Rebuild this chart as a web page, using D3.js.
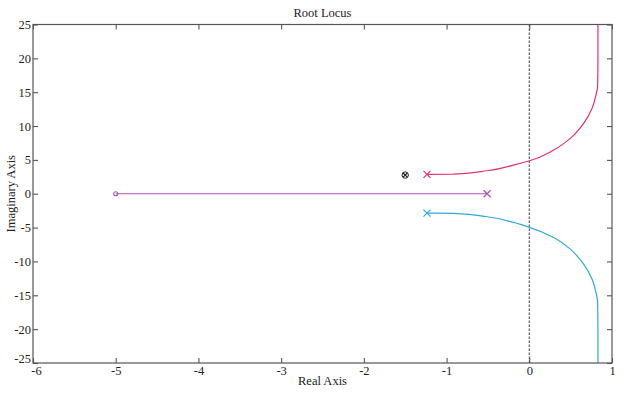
<!DOCTYPE html>
<html><head><meta charset="utf-8">
<script src="https://cdn.jsdelivr.net/npm/d3@7"></script>
<style>body{margin:0;background:#fff}svg{display:block}text{font-family:"Liberation Serif","Times New Roman",serif;fill:#222}</style>
</head><body><svg id="c" width="624" height="393"></svg>
<script>
const xTicks = [-6,-5,-4,-3,-2,-1,0,1];
const yTicks = [-25,-20,-15,-10,-5,0,5,10,15,20,25];
// Branch 1 (upper, pink): real, imag
const upperRe = [-1.237,-0.915,-0.512,-0.19,0.004,0.294,0.496,0.657,0.758,0.81,0.826,0.83,0.83];
const upperIm = [2.87,2.91,3.40,4.24,4.87,6.45,8.18,10.4,12.6,14.8,15.8,20,25];
// Branch 2 (lower, cyan)
const lowerRe = [-1.237,-0.915,-0.512,-0.19,0.004,0.294,0.496,0.657,0.758,0.81,0.826,0.83,0.83];
const lowerIm = [-2.87,-2.91,-3.40,-4.24,-4.96,-6.45,-8.18,-10.4,-12.6,-14.8,-15.9,-20,-25];
// Branch 3 (real axis, purple)
const realRe = [-5,-0.5];
const realIm = [0,0];
// Poles / zeros
const polesRe = [-1.237,-1.237,-0.51];
const polesIm = [2.87,-2.87,0];
const zerosRe = [-5];
const zerosIm = [0];
const cancelRe = [-1.5];
const cancelIm = [2.76];

const svg = d3.select("#c");
const L=33,R=612,T=24.5,B=363;
const x = d3.scaleLinear().domain([-6,1]).range([L,R]);
const y = d3.scaleLinear().domain([-25,25]).range([B,T]);
const axisCol="#555";

// dashed imaginary axis line
svg.append("line").attr("x1",x(0)).attr("x2",x(0)).attr("y1",T).attr("y2",B)
  .attr("stroke","#222").attr("stroke-width",0.9).attr("stroke-dasharray","2.5,1.5");

const line = d3.line().x(d=>x(d[0])).y(d=>y(d[1])).curve(d3.curveMonotoneY);
const lineX = d3.line().x(d=>x(d[0])).y(d=>y(d[1]));
const cols = {up:"#e5336e", lo:"#33a8dc", re:"#a558b4"};
svg.append("path").attr("d",line(d3.zip(upperRe,upperIm))).attr("fill","none").attr("stroke",cols.up).attr("stroke-width",1.2);
svg.append("path").attr("d",line(d3.zip(lowerRe,lowerIm))).attr("fill","none").attr("stroke",cols.lo).attr("stroke-width",1.2);
svg.append("path").attr("d",lineX(d3.zip(realRe,realIm))).attr("fill","none").attr("stroke",cols.re).attr("stroke-width",1.2);

function cross(cx,cy,s,col){
  svg.append("path").attr("d",`M${cx-s},${cy-s}L${cx+s},${cy+s}M${cx-s},${cy+s}L${cx+s},${cy-s}`)
    .attr("stroke",col).attr("stroke-width",1.2).attr("fill","none");
}
const poleCols=[cols.up,cols.lo,cols.re];
polesRe.forEach((r,i)=>cross(x(r),y(polesIm[i]),3.5,poleCols[i]));
zerosRe.forEach((r,i)=>svg.append("circle").attr("cx",x(r)).attr("cy",y(zerosIm[i])).attr("r",2)
  .attr("fill","none").attr("stroke",cols.re).attr("stroke-width",1.1));
cancelRe.forEach((r,i)=>{
  const cx=x(r),cy=y(cancelIm[i]);
  svg.append("circle").attr("cx",cx).attr("cy",cy).attr("r",3.2).attr("fill","none").attr("stroke","#222").attr("stroke-width",1);
  cross(cx,cy,2.1,"#222");
});

// frame
svg.append("rect").attr("x",L).attr("y",T).attr("width",R-L).attr("height",B-T)
  .attr("fill","none").attr("stroke",axisCol).attr("stroke-width",1.2);

// axes with inward ticks
const tk=5;
const fmt = d=>String(d);
const gx=svg.append("g").attr("transform",`translate(0,${B})`)
  .call(d3.axisBottom(x).tickValues(xTicks).tickSize(-tk).tickPadding(4).tickFormat(fmt));
const gxt=svg.append("g").attr("transform",`translate(0,${T})`)
  .call(d3.axisTop(x).tickValues(xTicks).tickSize(-tk).tickFormat(""));
const gy=svg.append("g").attr("transform",`translate(${L},0)`)
  .call(d3.axisLeft(y).tickValues(yTicks).tickSize(-tk).tickPadding(2).tickFormat(fmt));
const gyr=svg.append("g").attr("transform",`translate(${R},0)`)
  .call(d3.axisRight(y).tickValues(yTicks).tickSize(-tk).tickFormat(""));
[gx,gxt,gy,gyr].forEach(g=>{
  g.select(".domain").remove();
  g.selectAll(".tick line").attr("stroke",axisCol).attr("stroke-width",1.1);
  g.selectAll("text").attr("font-size",12.5).attr("fill","#222").attr("font-family","Liberation Serif, serif");
});
gx.selectAll(".tick text").attr("dy","0.6em").attr("dx",d=>d===-6?3:0);
gy.selectAll(".tick text").attr("dy",d=>d===-25?"-0.05em":"0.32em");

svg.append("text").attr("x",(L+R)/2).attr("y",17).attr("text-anchor","middle").attr("font-size",12.5).text("Root Locus");
svg.append("text").attr("x",(L+R)/2).attr("y",385).attr("text-anchor","middle").attr("font-size",12.5).text("Real Axis");
svg.append("text").attr("transform",`translate(15,${(T+B)/2}) rotate(-90)`).attr("text-anchor","middle").attr("font-size",12.5).text("Imaginary Axis");
</script></body></html>
